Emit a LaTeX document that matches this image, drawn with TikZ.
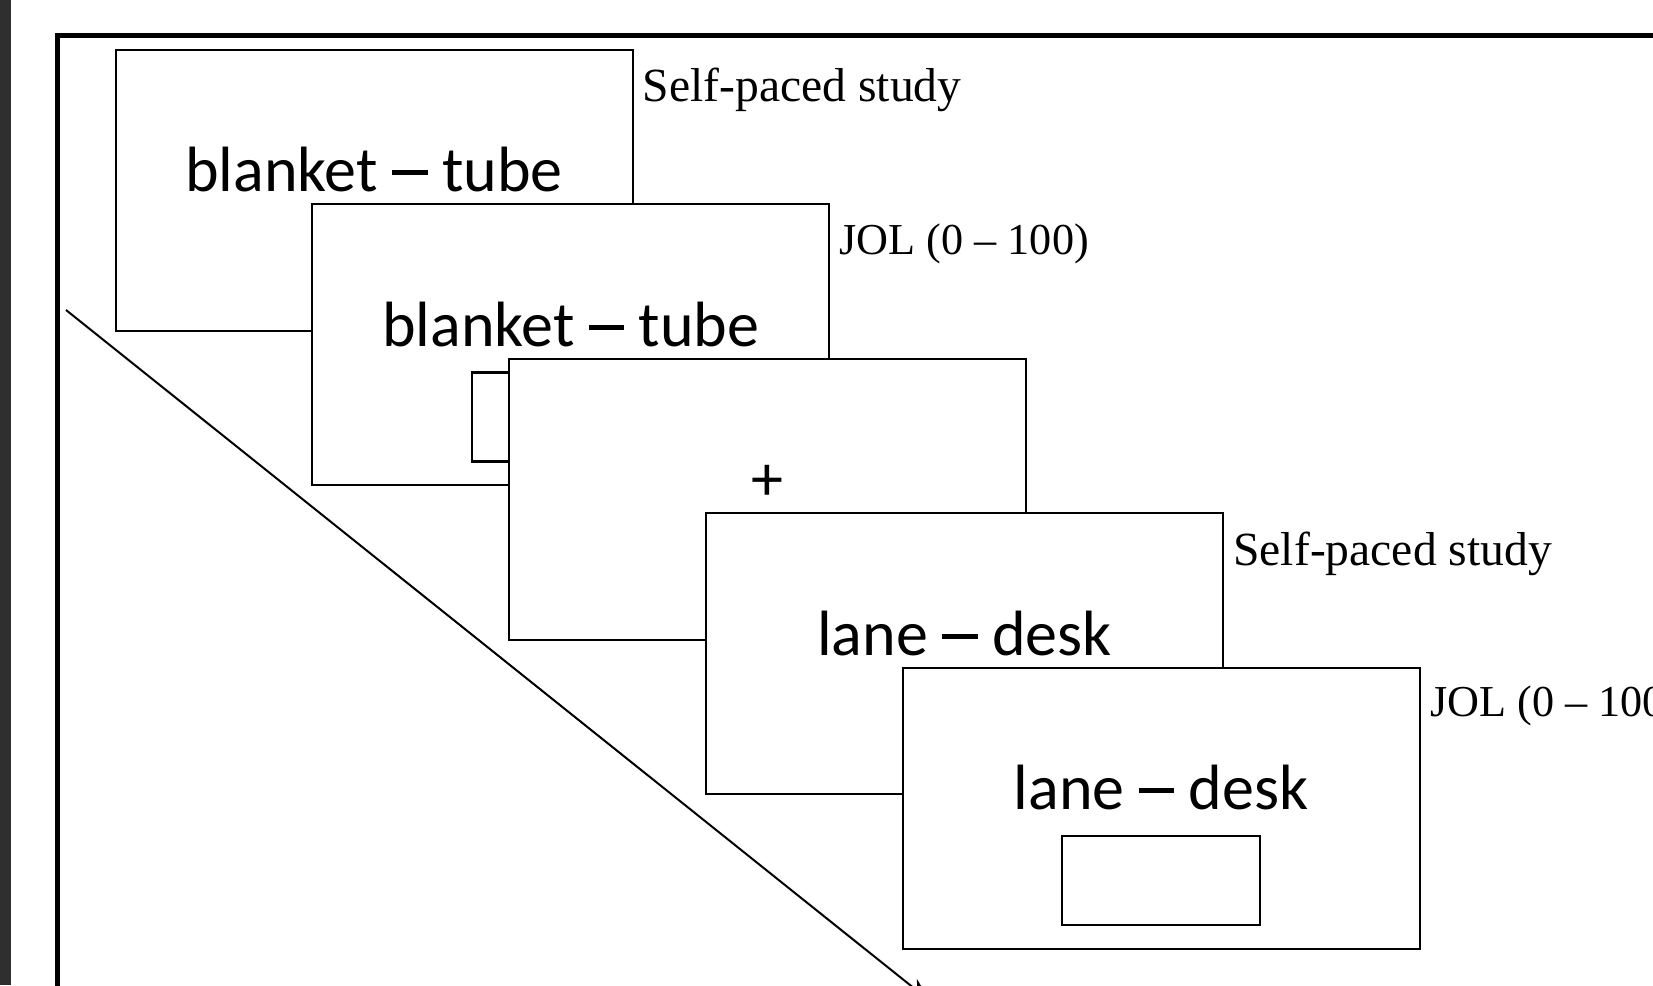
\documentclass[tikz,border=0pt]{standalone}
\usepackage{fontspec}
\setmainfont{Liberation Serif}
\newfontfamily\wordfont{Carlito}
\usetikzlibrary{arrows.meta}
\definecolor{barcol}{HTML}{2F2F2F}
\newcommand{\wdash}{\rule[0.255em]{0.55em}{0.075em}}

\begin{document}
\begin{tikzpicture}[x=0.5pt, y=-0.5pt,
  screen/.style={rectangle, draw, fill=white, line width=1pt, inner sep=0pt, minimum width=258.5pt, minimum height=140.5pt},
  resp/.style={rectangle, draw, fill=white, line width=1.1pt, inner sep=0pt, minimum width=99pt, minimum height=44.5pt},
  word/.style={inner sep=0pt, anchor=base, font=\wordfont\fontsize{32}{38}\selectfont},
  phase/.style={inner sep=0pt, anchor=base west, font=\fontsize{23.8}{28}\selectfont},
  jol/.style={phase, font=\fontsize{22.1}{27}\selectfont}]
 \useasboundingbox (0,0) rectangle (1653,985);
 \clip (0,0) rectangle (1653,985);
 % page edge and frame
 \fill[barcol] (0,0) rectangle (11,985);
 \draw[line width=2.5pt] (1700,35.5) -- (57.5,35.5) -- (57.5,1050);
 % screens
 \node[screen] (b1) at (374,190) {};
 \node[screen] (b2) at (570.8,344.5) {};
 \node[resp] (r2) at ([yshift=-36.25pt]b2.center) {};
 \node[screen] (b3) at (767.6,499) {};
 \node[screen] (b4) at (964.4,653.5) {};
 \node[screen] (b5) at (1161.2,808) {};
 \node[resp] (r5) at ([yshift=-36.25pt]b5.center) {};
 % words
 \node[word] (w1) at ([yshift=-71.5pt]b1.north) {blanket \wdash{} tube};
 \node[word] (w2) at ([yshift=-71.5pt]b2.north) {blanket \wdash{} tube};
 \node[word] (w3) at ([yshift=-71.5pt]b3.north) {+};
 \node[word] (w4) at ([yshift=-71.5pt]b4.north) {lane \wdash{} desk};
 \node[word] (w5) at ([yshift=-71.5pt]b5.north) {lane \wdash{} desk};
 % phase labels
 \node[phase] (p1) at ([xshift=4.5pt, yshift=-26.5pt]b1.north east) {Self-paced study};
 \node[jol] (p2) at ([xshift=4.5pt, yshift=-25.5pt]b2.north east) {JOL (0 – 100)};
 \node[phase] (p4) at ([xshift=4.5pt, yshift=-26.5pt]b4.north east) {Self-paced study};
 \node[jol] (p5) at ([xshift=4.5pt, yshift=-25pt]b5.north east) {JOL (0 – 100)};
 % time arrow
 \coordinate (t0) at (66,310);
 \coordinate (t1) at (930,1001);
 \draw[line width=1pt, -{Stealth[length=12pt, width=9pt]}] (t0) -- (t1);
\end{tikzpicture}
\end{document}
